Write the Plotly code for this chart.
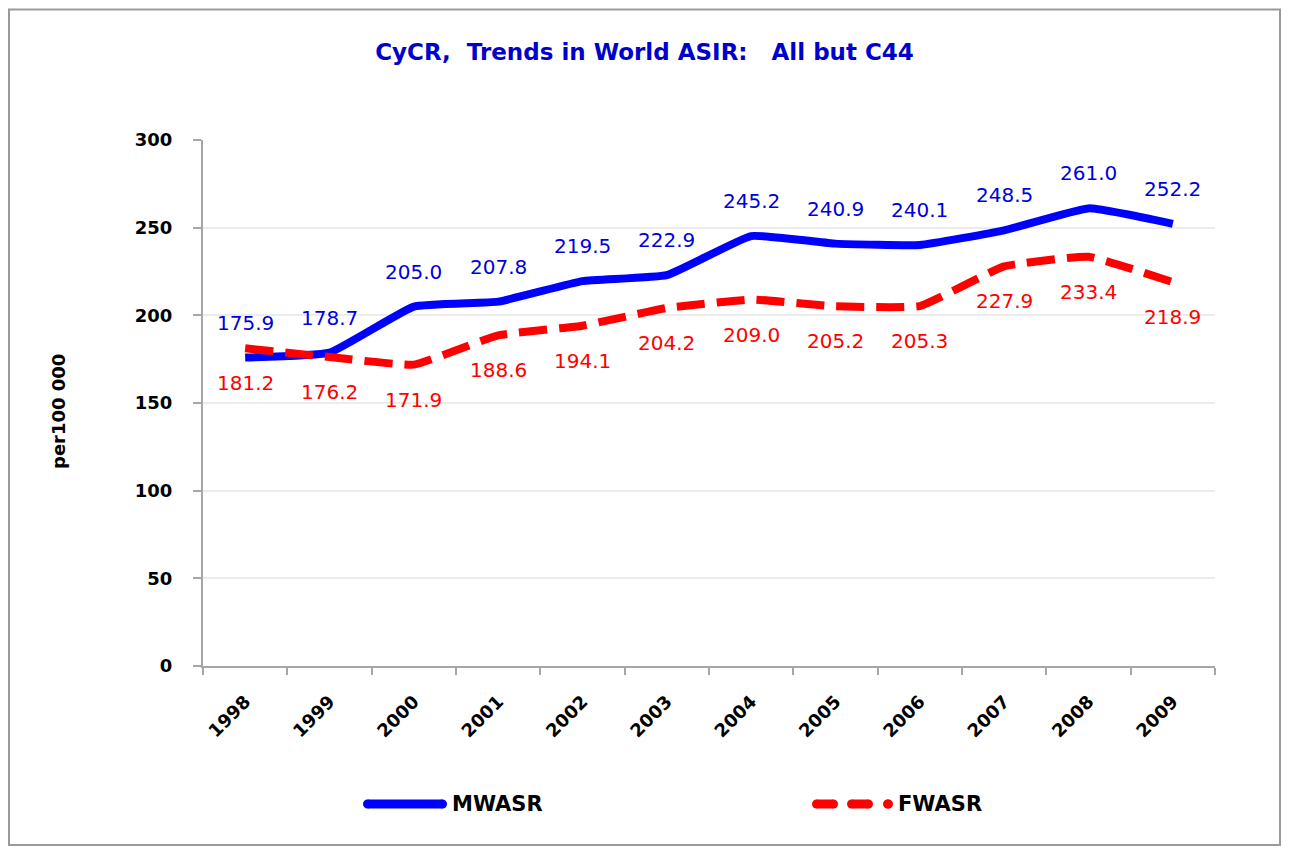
import plotly.graph_objects as go

# ---- data ----
years = ["1998", "1999", "2000", "2001", "2002", "2003",
         "2004", "2005", "2006", "2007", "2008", "2009"]
mwasr = [175.9, 178.7, 205.0, 207.8, 219.5, 222.9,
         245.2, 240.9, 240.1, 248.5, 261.0, 252.2]
fwasr = [181.2, 176.2, 171.9, 188.6, 194.1, 204.2,
         209.0, 205.2, 205.3, 227.9, 233.4, 218.9]
series_names = ["MWASR", "FWASR"]
y_ticks = [0, 50, 100, 150, 200, 250, 300]
title_text = "CyCR,\u00a0 Trends in World ASIR:\u00a0\u00a0 All but C44"
y_title = "per100 000"

# ---- layout geometry (pixels) ----
W, H = 1273, 838
OFF = 8
L, R, T, B = 195, 66, 132, 180
PW = W - L - R
PH = H - T - B


def xp(sx):
    return (sx - OFF - L) / PW


def yp(sy):
    return (H - B - (sy - OFF)) / PH


BLUE = "#0000FF"
RED = "#FF0000"
AXIS = "#a6a6a6"
FONT = "DejaVu Sans"

fig = go.Figure()
fig.add_trace(go.Scatter(
    x=years, y=mwasr, name=series_names[0], mode="lines",
    line=dict(color=BLUE, width=8, shape="spline", smoothing=0.35),
    showlegend=False, hoverinfo="x+y+name"))
fig.add_trace(go.Scatter(
    x=years, y=fwasr, name=series_names[1], mode="lines",
    line=dict(color=RED, width=8, dash="28px,12px", shape="spline", smoothing=0.35),
    showlegend=False, hoverinfo="x+y+name"))

annotations = []
# data labels: category axes place annotations by category serial number
for i, v in enumerate(mwasr):
    annotations.append(dict(x=i, y=v, xref="x", yref="y", text=f"{v:.1f}",
                            showarrow=False, yshift=35,
                            font=dict(family=FONT, size=20, color="#0000DD")))
for i, v in enumerate(fwasr):
    annotations.append(dict(x=i, y=v, xref="x", yref="y", text=f"{v:.1f}",
                            showarrow=False, yshift=-35,
                            font=dict(family=FONT, size=20, color=RED)))

# y-axis title
annotations.append(dict(x=xp(58), y=yp(412), xref="paper", yref="paper",
                        text=y_title, textangle=-90, showarrow=False,
                        xanchor="center", yanchor="middle",
                        font=dict(family=FONT, size=18, color="black", weight="bold")))

shapes = []


def capsule(x0, x1, yc, w, color):
    r = w / 2.0
    if x1 - x0 > w:
        shapes.append(dict(type="line", xref="paper", yref="paper",
                           x0=xp(x0 + r), x1=xp(x1 - r), y0=yp(yc), y1=yp(yc),
                           line=dict(color=color, width=w)))
    for cx in {x0 + r, x1 - r}:
        shapes.append(dict(type="circle", xref="paper", yref="paper",
                           x0=xp(cx - r), x1=xp(cx + r), y0=yp(yc + r), y1=yp(yc - r),
                           fillcolor=color, line=dict(width=0)))


# legend (manual, to match long sample lines)
LEG_Y = 804
capsule(363, 447, LEG_Y, 9, BLUE)
capsule(812, 838, LEG_Y, 9, RED)
capsule(847, 873, LEG_Y, 9, RED)
capsule(883, 893, LEG_Y, 9, RED)
annotations.append(dict(x=xp(450), y=yp(LEG_Y), xref="paper", yref="paper",
                        text=series_names[0], showarrow=False,
                        xanchor="left", yanchor="middle",
                        font=dict(family=FONT, size=21, color="black", weight="bold")))
annotations.append(dict(x=xp(896), y=yp(LEG_Y), xref="paper", yref="paper",
                        text=series_names[1], showarrow=False,
                        xanchor="left", yanchor="middle",
                        font=dict(family=FONT, size=21, color="black", weight="bold")))

# outer border
shapes.append(dict(type="rect", xref="paper", yref="paper",
                   x0=xp(9), x1=xp(1280), y0=yp(845), y1=yp(9.5),
                   line=dict(color="#9a9a9a", width=2), fillcolor="rgba(0,0,0,0)"))

fig.update_layout(
    width=W, height=H, autosize=False,
    margin=dict(l=L, r=R, t=T, b=B, pad=0),
    paper_bgcolor="white", plot_bgcolor="white",
    title=dict(text=title_text, x=0.5, xref="container", xanchor="center",
               y=1 - (52 - OFF) / H, yref="container", yanchor="middle",
               font=dict(family=FONT, size=23, color="#0000CC", weight="bold")),
    xaxis=dict(type="category", range=[-0.5, len(years) - 0.5],
               showline=True, linecolor=AXIS, linewidth=2,
               ticks="outside", tickson="boundaries", ticklen=7,
               tickcolor=AXIS, tickwidth=2, showgrid=False,
               tickangle=-45, ticklabelstandoff=16,
               tickfont=dict(family=FONT, size=18, color="black", weight="bold")),
    yaxis=dict(range=[0, 300], tickvals=y_ticks, showline=True,
               linecolor=AXIS, linewidth=2, ticks="outside", ticklen=8,
               tickcolor=AXIS, tickwidth=2, showgrid=True,
               gridcolor="#ececec", gridwidth=1.5, zeroline=False,
               ticklabelstandoff=17,
               tickfont=dict(family=FONT, size=18, color="black", weight="bold")),
    annotations=annotations,
    shapes=shapes,
)

fig.write_html("out.html")
